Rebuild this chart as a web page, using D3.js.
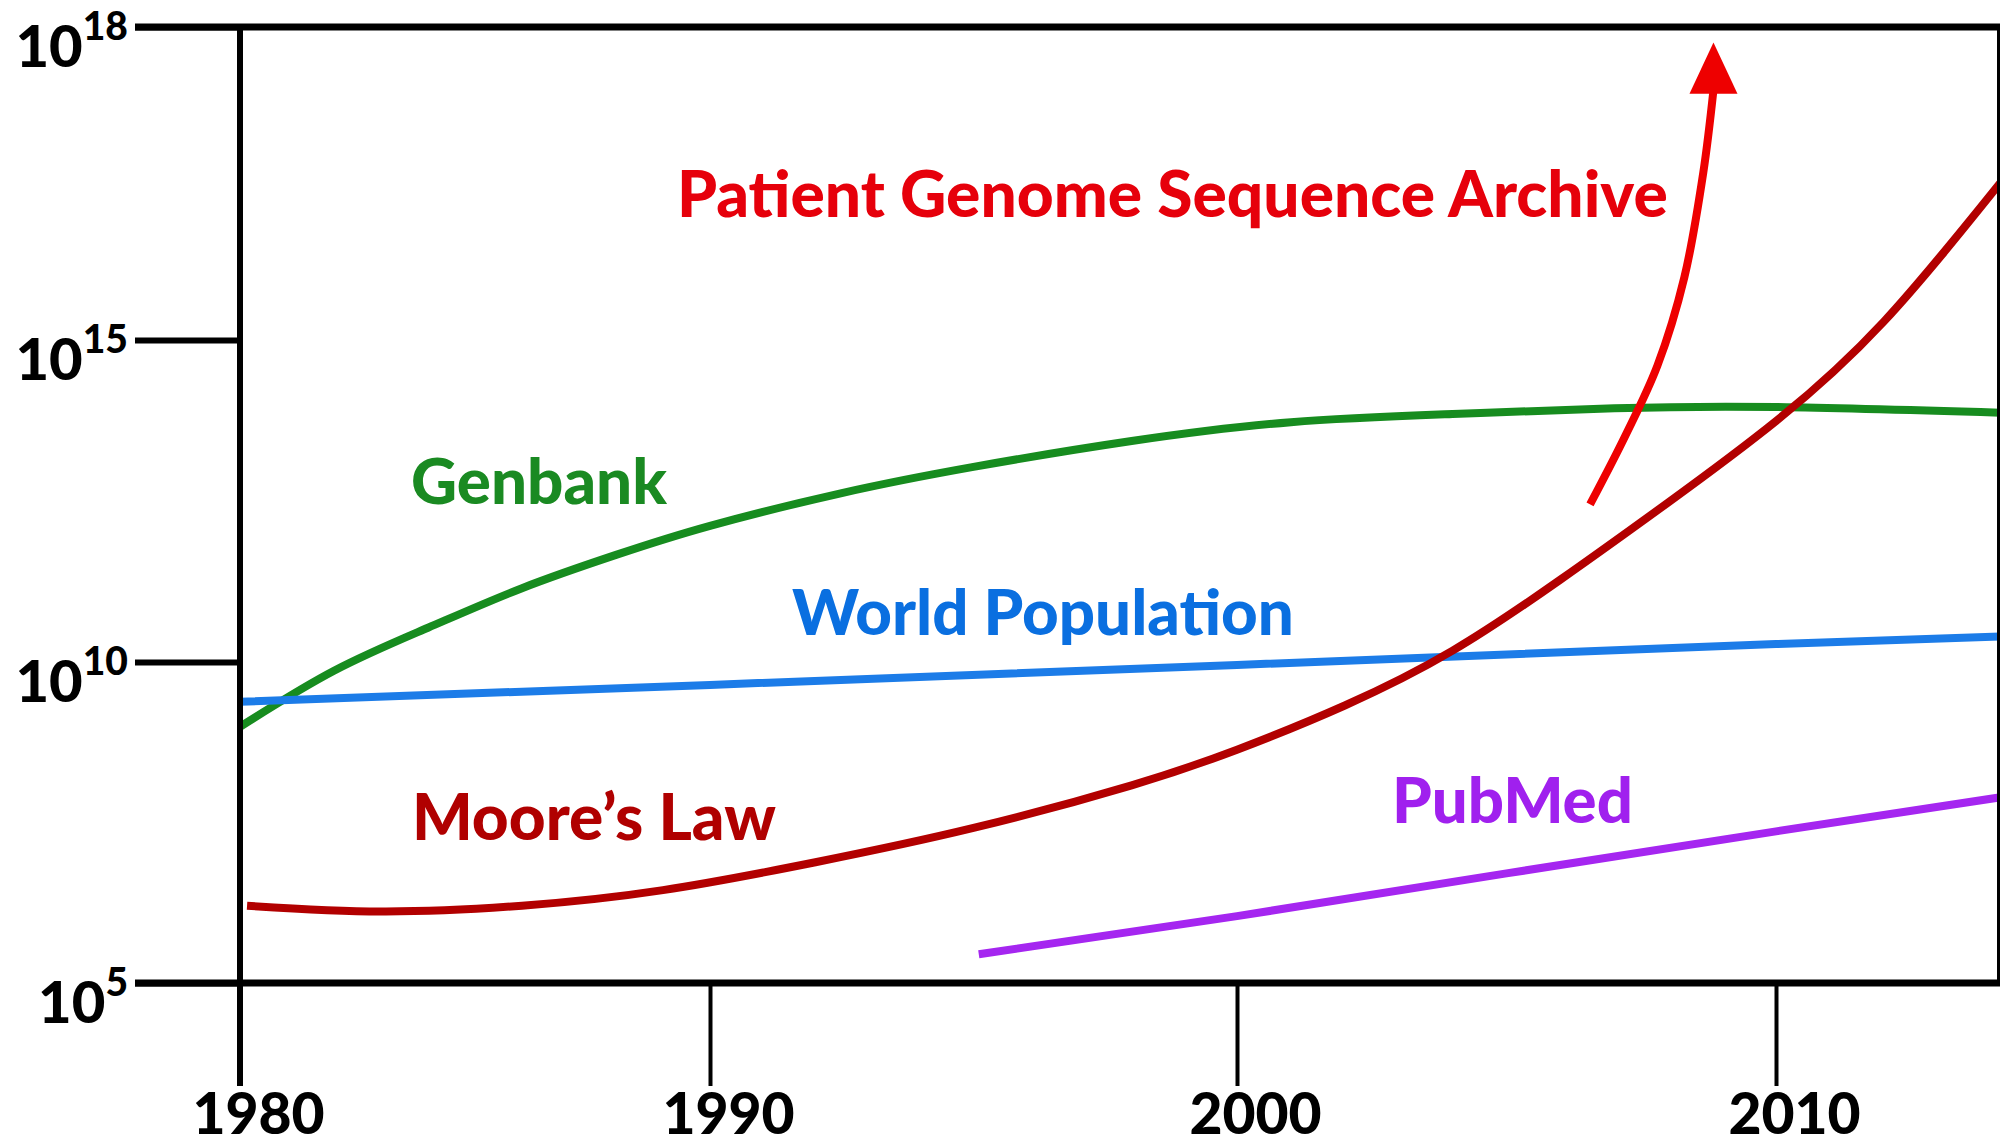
<!DOCTYPE html>
<html>
<head>
<meta charset="utf-8">
<script src="https://cdn.jsdelivr.net/npm/d3@7"></script>
<style>
  body { margin: 0; background: #fff; }
  svg { display: block; background: #fff; }
  text { font-family: Lato, "Open Sans", sans-serif; font-weight: 900; }
</style>
</head>
<body>
<svg id="chart" width="2004" height="1146"></svg>
<script>
// the original is a sketch: tick marks are evenly spaced, so both axes are piecewise
const yearTicks = [1980, 1990, 2000, 2010]
const yearTickLabels = ['1980', '1990', '2000', '2010']
const powerTicks = [1e5, 1e10, 1e15, 1e18]
const powerTickExponents = ['5', '10', '15', '18']

const genbankYears = [1980, 1982, 1984, 1986, 1988, 1990, 1992.5, 1995, 1998, 2001, 2004, 2007, 2010, 2014.2]
const genbankValues = [9.8e8, 7.3e9, 3.4e10, 1.4e11, 4.6e11, 1.3e12, 4.2e12, 1.07e13, 2.7e13, 5.3e13, 7.1e13, 8.7e13, 9.1e13, 7.4e13]

const populationYears = [1980, 1990, 2000, 2010, 2014.2]
const populationValues = [2.4e9, 4.4e9, 9.0e9, 1.9e10, 2.5e10]

const mooreYears = [1980.15, 1983, 1986, 1989, 1992, 1995, 1998, 2000, 2002, 2004, 2006, 2008, 2010, 2012, 2014.2]
const mooreValues = [1.6e6, 1.3e6, 1.6e6, 2.8e6, 7.6e6, 2.6e7, 1.2e8, 4.3e8, 2.1e9, 1.5e10, 1.9e11, 3.0e12, 5.5e13, 1.5e15, 3.4e16]

const pubmedYears = [1995.1, 2000, 2005, 2010, 2014.2]
const pubmedValues = [2.8e5, 1.1e6, 5.1e6, 2.3e7, 7.9e7]

const archiveYears = [2006.55, 2007.2, 2007.8, 2008.3, 2008.65, 2008.84]
const archiveValues = [2.8e12, 3.2e13, 4.0e14, 4.0e15, 4.0e16, 2.5e17]
const archiveTipValue = 7.1e17

const series = [
  { years: genbankYears, values: genbankValues, color: '#178c1f', curve: d3.curveNatural },
  { years: populationYears, values: populationValues, color: '#1c7ce8', curve: d3.curveLinear },
  { years: mooreYears, values: mooreValues, color: '#b20000', curve: d3.curveNatural },
  { years: pubmedYears, values: pubmedValues, color: '#a526f0', curve: d3.curveLinear },
  { years: archiveYears, values: archiveValues, color: '#ee0000', curve: d3.curveCatmullRom }
]

// label placement in pixels (left edge, baseline, width of the text)
const labels = [
  { text: 'Patient Genome Sequence Archive', color: '#e6000b', x: 677, y: 217, width: 991 },
  { text: 'Genbank', color: '#1a8a22', x: 411, y: 504, width: 256 },
  { text: 'World Population', color: '#0a6fe0', x: 792, y: 635, width: 502 },
  { text: 'Moore\u2019s Law', color: '#b00000', x: 412, y: 840, width: 364 },
  { text: 'PubMed', color: '#a020ee', x: 1392, y: 823, width: 241 }
]

const frameLeft = 135
const frameRight = 2000
const lineWidth = 8

const x = d3.scaleLinear()
  .domain(yearTicks)
  .range([240, 710, 1237, 1776])
const y = d3.scaleLog()
  .domain(powerTicks)
  .range([983, 662, 340, 27])

const svg = d3.select('#chart')

svg.append('defs').append('clipPath')
  .attr('id', 'plot-clip')
  .append('rect')
  .attr('x', x(1980))
  .attr('y', y(1e18))
  .attr('width', frameRight - x(1980))
  .attr('height', y(1e5) - y(1e18))

const line = d3.line()
  .x(d => x(d[0]))
  .y(d => y(d[1]))

const plot = svg.append('g').attr('clip-path', 'url(#plot-clip)')

series.forEach(s => {
  const pts = s.years.map((yr, i) => [yr, s.values[i]])
  plot.append('path')
    .attr('d', line.curve(s.curve)(pts))
    .attr('fill', 'none')
    .attr('stroke', s.color)
    .attr('stroke-width', lineWidth)
})

// arrow head on the archive curve
const lastYear = archiveYears[archiveYears.length - 1]
const lastValue = archiveValues[archiveValues.length - 1]
const hx = x(lastYear)
const hy = y(lastValue)
plot.append('path')
  .attr('d', `M${hx - 24},${hy + 4} L${hx + 24},${hy + 4} L${hx},${y(archiveTipValue)} Z`)
  .attr('fill', '#ee0000')

// frame
const frame = svg.append('g').attr('stroke', '#000')
frame.append('line')
  .attr('x1', frameLeft).attr('x2', frameRight)
  .attr('y1', y(1e18)).attr('y2', y(1e18))
  .attr('stroke-width', 7)
frame.append('line')
  .attr('x1', frameLeft).attr('x2', frameRight)
  .attr('y1', y(1e5)).attr('y2', y(1e5))
  .attr('stroke-width', 7)
frame.append('line')
  .attr('x1', frameRight - 1.5).attr('x2', frameRight - 1.5)
  .attr('y1', y(1e18)).attr('y2', y(1e5))
  .attr('stroke-width', 3)
frame.append('line')
  .attr('x1', x(1980)).attr('x2', x(1980))
  .attr('y1', y(1e18) - 3).attr('y2', 1086)
  .attr('stroke-width', 6)

// y axis
const yAxis = d3.axisLeft(y)
  .tickValues(powerTicks)
  .tickSize(x(1980) - frameLeft)
  .tickFormat('')
const yg = svg.append('g')
  .attr('transform', `translate(${x(1980)},0)`)
  .call(yAxis)
yg.select('.domain').remove()
yg.selectAll('.tick line').attr('stroke', '#000').attr('stroke-width', 6)
yg.selectAll('.tick text').remove()
yg.selectAll('.tick').each(function (d, i) {
  const t = d3.select(this).append('text')
    .attr('x', -(x(1980) - 128))
    .attr('y', 39)
    .attr('text-anchor', 'end')
    .attr('fill', '#000')
  t.append('tspan').attr('font-size', 58).text('10')
  t.append('tspan').attr('font-size', 39).attr('dy', -27).text(powerTickExponents[i])
})

// x axis
const xAxis = d3.axisBottom(x)
  .tickValues(yearTicks)
  .tickSize(1086 - y(1e5))
  .tickFormat((d, i) => yearTickLabels[i])
const xg = svg.append('g')
  .attr('transform', `translate(0,${y(1e5)})`)
  .call(xAxis)
xg.select('.domain').remove()
xg.selectAll('.tick line').attr('stroke', '#000').attr('stroke-width', 4)
xg.selectAll('.tick text')
  .attr('y', 151)
  .attr('dy', 0)
  .attr('dx', 18)
  .attr('fill', '#000')
  .attr('font-size', 57)
  .attr('font-family', 'Lato, sans-serif')
  .attr('font-weight', 900)

// series labels, sized to the width they take in the original
labels.forEach(l => {
  const t = svg.append('text')
    .attr('x', l.x)
    .attr('y', l.y)
    .attr('fill', l.color)
    .attr('font-size', 60)
    .text(l.text)
  const w = t.node().getComputedTextLength()
  t.attr('font-size', 60 * l.width / w)
})
</script>
</body>
</html>
